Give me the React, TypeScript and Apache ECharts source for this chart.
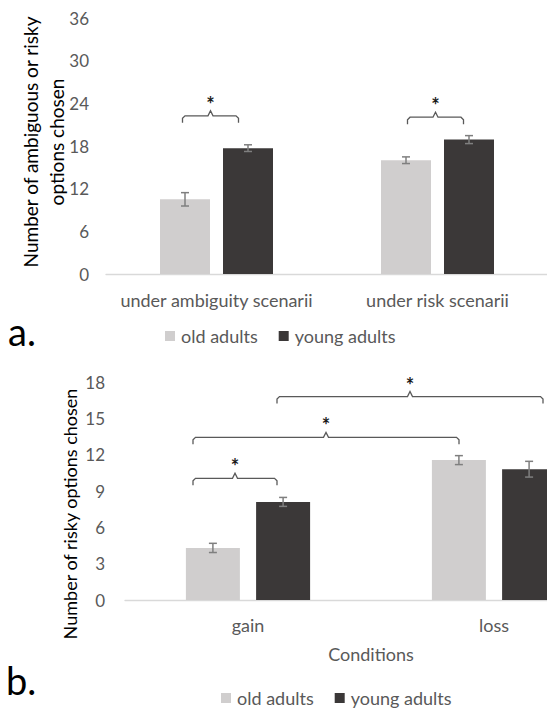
import React, { useEffect, useRef } from "react";
import * as echarts from "echarts";

// ---------- Data ----------
const catsA = ["under ambiguity scenarii", "under risk scenarii"];
const oldA = [10.5, 16.0];
const youngA = [17.7, 18.9];
const oldAErr = [0.94, 0.47];
const youngAErr = [0.47, 0.56];

const catsB = ["gain", "loss"];
const oldB = [4.3, 11.55];
const youngB = [8.1, 10.8];
const oldBErr = [0.38, 0.37];
const youngBErr = [0.37, 0.65];

const yTicksA = { min: 0, max: 36, interval: 6 };
const yTicksB = { min: 0, max: 18, interval: 3 };

// significance brackets: [fromCategory, toCategory, level]
const bracketsA = [
  [0, 0, 22.25],
  [1, 1, 22.05],
];
const bracketsB = [
  [0, 0, 10.05],
  [0, 1, 13.43],
  [0, 1, 16.8],
];

const seriesNames = ["old adults", "young adults"];

// ---------- Styles / layout ----------
const FONT = "Lato";
const OLD_COLOR = "#d0cece";
const YOUNG_COLOR = "#3b3838";
const ERR_COLOR = "#7f7f7f";
const BRACKET_COLOR = "#595959";
const LABEL_COLOR = "#595959";
// bracket pixel offsets (left end, right end) from category centers
const bracketOffsetsA = [
  [-34, 22],
  [-30, 26],
];
const bracketOffsetsB = [
  [-55, 29],
  [-55, -35],
  [29, 49],
];

function errorSeries(axis: number, values: number[], errs: number[], offset: number) {
  return {
    type: "custom",
    xAxisIndex: axis,
    yAxisIndex: axis,
    silent: true,
    z: 10,
    data: values.map((v, i) => [i, v - errs[i], v + errs[i]]),
    encode: { x: 0, y: [1, 2] },
    renderItem: (params: any, api: any) => {
      const lo = api.coord([api.value(0), api.value(1)]);
      const hi = api.coord([api.value(0), api.value(2)]);
      const x = lo[0] + offset;
      const hw = 4;
      const st = { stroke: ERR_COLOR, lineWidth: 1.5 };
      return {
        type: "group",
        children: [
          { type: "line", shape: { x1: x, y1: lo[1], x2: x, y2: hi[1] }, style: st },
          { type: "line", shape: { x1: x - hw, y1: lo[1], x2: x + hw, y2: lo[1] }, style: st },
          { type: "line", shape: { x1: x - hw, y1: hi[1], x2: x + hw, y2: hi[1] }, style: st },
        ],
      };
    },
  };
}

function bracketSeries(axis: number, brackets: number[][], offsets: number[][]) {
  return {
    type: "custom",
    xAxisIndex: axis,
    yAxisIndex: axis,
    silent: true,
    z: 10,
    data: brackets,
    encode: { x: [0, 1], y: 2 },
    renderItem: (params: any, api: any) => {
      const i = params.dataIndex;
      const a = api.coord([api.value(0), api.value(2)]);
      const b = api.coord([api.value(1), api.value(2)]);
      const x1 = a[0] + offsets[i][0];
      const x2 = b[0] + offsets[i][1];
      const y = a[1];
      const xm = (x1 + x2) / 2;
      const pts = [
        [x1, y + 7],
        [x1, y + 2.5],
        [x1 + 2.5, y],
        [xm - 2.5, y],
        [xm, y - 5],
        [xm + 2.5, y],
        [x2 - 2.5, y],
        [x2, y + 2.5],
        [x2, y + 7],
      ];
      return {
        type: "group",
        children: [
          {
            type: "polyline",
            shape: { points: pts },
            style: { stroke: BRACKET_COLOR, lineWidth: 1.3, fill: "none" },
          },
          {
            type: "text",
            x: xm,
            y: y - 12,
            style: {
              text: "*",
              font: `bold 20px ${FONT}`,
              fill: "#1a1a1a",
              align: "center",
              verticalAlign: "middle",
            },
          },
        ],
      };
    },
  };
}

export default function App() {
  const ref = useRef<HTMLDivElement>(null);

  useEffect(() => {
    if (!ref.current) return;
    const chart = echarts.init(ref.current, undefined, { renderer: "svg" });

    const catAxis = (idx: number, cats: string[], margin: number, extra: any = {}) => ({
      type: "category",
      gridIndex: idx,
      data: cats,
      axisLine: { lineStyle: { color: "#d9d9d9", width: 1.3 } },
      axisTick: { show: false },
      axisLabel: { color: LABEL_COLOR, fontSize: 18, fontFamily: FONT, margin, interval: 0 },
      ...extra,
    });

    const valAxis = (idx: number, t: any, margin: number) => ({
      type: "value",
      gridIndex: idx,
      min: t.min,
      max: t.max,
      interval: t.interval,
      splitLine: { show: false },
      axisLine: { show: false },
      axisTick: { show: false },
      axisLabel: { color: LABEL_COLOR, fontSize: 17, fontFamily: FONT, margin },
    });

    chart.setOption({
      animation: false,
      textStyle: { fontFamily: FONT },
      grid: [
        { left: 106, top: 18, width: 442, height: 256 },
        { left: 125, top: 382, width: 492, height: 218 },
      ],
      xAxis: [
        catAxis(0, catsA, 17),
        catAxis(1, catsB, 16, {
          name: "Conditions",
          nameLocation: "middle",
          nameGap: 45,
          nameTextStyle: { color: LABEL_COLOR, fontSize: 18, fontFamily: FONT },
        }),
      ],
      yAxis: [valAxis(0, yTicksA, 17), valAxis(1, yTicksB, 20)],
      legend: [
        {
          data: seriesNames,
          left: 165,
          top: 327,
          icon: "rect",
          itemWidth: 10,
          itemHeight: 10,
          itemGap: 21,
          textStyle: { color: LABEL_COLOR, fontSize: 18, fontFamily: FONT, padding: [0, 0, 0, 1] },
          padding: 0,
        },
        {
          data: seriesNames,
          left: 221,
          top: 689,
          icon: "rect",
          itemWidth: 10,
          itemHeight: 10,
          itemGap: 21,
          textStyle: { color: LABEL_COLOR, fontSize: 18, fontFamily: FONT, padding: [0, 0, 0, 1] },
          padding: 0,
        },
      ],
      graphic: [
        {
          type: "text",
          x: 43,
          y: 142,
          rotation: Math.PI / 2,
          style: {
            text: "Number of ambiguous or risky\noptions chosen",
            font: `19px ${FONT}`,
            lineHeight: 26,
            fill: "#000",
            align: "center",
            verticalAlign: "middle",
          },
        },
        {
          type: "text",
          x: 70,
          y: 514,
          rotation: Math.PI / 2,
          style: {
            text: "Number of risky options chosen",
            font: `18px ${FONT}`,
            fill: "#000",
            align: "center",
            verticalAlign: "middle",
          },
        },
        {
          type: "text",
          x: 8,
          y: 331,
          style: { text: "a.", font: `38px ${FONT}`, fill: "#000", verticalAlign: "middle" },
        },
        {
          type: "text",
          x: 6,
          y: 680,
          style: { text: "b.", font: `38px ${FONT}`, fill: "#000", verticalAlign: "middle" },
        },
      ],
      series: [
        {
          type: "bar",
          name: seriesNames[0],
          xAxisIndex: 0,
          yAxisIndex: 0,
          data: oldA,
          barWidth: 50,
          barGap: "26%",
          itemStyle: { color: OLD_COLOR },
        },
        {
          type: "bar",
          name: seriesNames[1],
          xAxisIndex: 0,
          yAxisIndex: 0,
          data: youngA,
          barWidth: 50,
          barGap: "26%",
          itemStyle: { color: YOUNG_COLOR },
        },
        {
          type: "bar",
          name: seriesNames[0],
          xAxisIndex: 1,
          yAxisIndex: 1,
          data: oldB,
          barWidth: 54,
          barGap: "30%",
          itemStyle: { color: OLD_COLOR },
        },
        {
          type: "bar",
          name: seriesNames[1],
          xAxisIndex: 1,
          yAxisIndex: 1,
          data: youngB,
          barWidth: 54,
          barGap: "30%",
          itemStyle: { color: YOUNG_COLOR },
        },
        errorSeries(0, oldA, oldAErr, -31.5),
        errorSeries(0, youngA, youngAErr, 31.5),
        errorSeries(1, oldB, oldBErr, -35.1),
        errorSeries(1, youngB, youngBErr, 35.1),
        bracketSeries(0, bracketsA, bracketOffsetsA),
        bracketSeries(1, bracketsB, bracketOffsetsB),
      ],
    });

    return () => chart.dispose();
  }, []);

  return (
    <div
      style={{
        position: "fixed",
        left: 0,
        top: 0,
        width: 547,
        height: 711,
        overflow: "hidden",
        background: "#fff",
      }}
    >
      <div ref={ref} style={{ width: 640, height: 711 }} />
    </div>
  );
}
